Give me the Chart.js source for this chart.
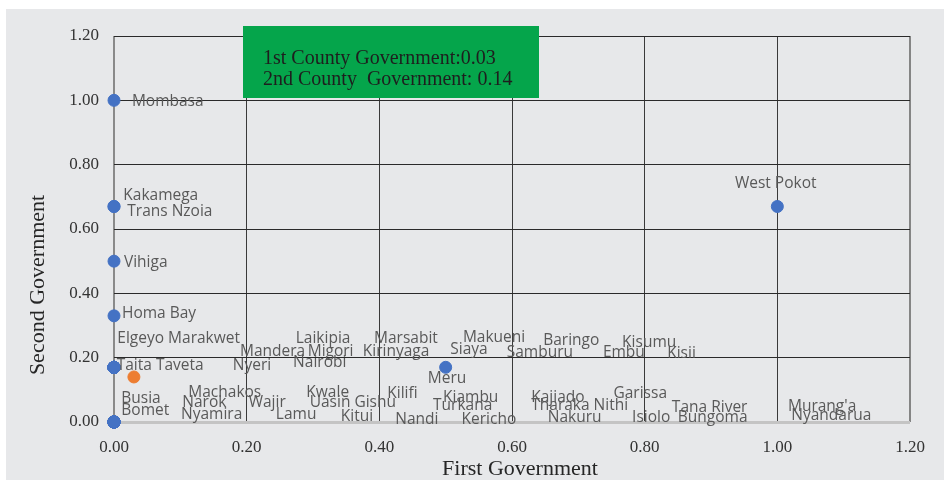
<!DOCTYPE html>
<html>
<head>
<meta charset="utf-8">
<script src="https://cdn.jsdelivr.net/npm/chart.js@4"></script>
<style>
  body { margin: 0; background: #ffffff; }
  #wrap { width: 944px; height: 486px; }
</style>
</head>
<body>
<div id="wrap"><canvas id="scatterChart" width="944" height="486"></canvas></div>
<script>
// county data (first government score, second government score)
var counties = ['Mombasa', 'Kakamega', 'Trans Nzoia', 'Vihiga', 'Homa Bay',
    'Elgeyo Marakwet', 'Taita Taveta', 'Mandera', 'Nyeri', 'Laikipia', 'Migori', 'Nairobi',
    'Marsabit', 'Kirinyaga', 'Makueni', 'Siaya', 'Baringo', 'Samburu', 'Kisumu', 'Embu', 'Kisii',
    'Meru', 'West Pokot',
    'Busia', 'Bomet', 'Machakos', 'Narok', 'Nyamira', 'Wajir', 'Lamu', 'Kwale', 'Uasin Gishu',
    'Kitui', 'Kilifi', 'Nandi', 'Kiambu', 'Turkana', 'Kericho', 'Kajiado', 'Tharaka Nithi',
    'Nakuru', 'Garissa', 'Isiolo', 'Tana River', 'Bungoma', "Murang'a", 'Nyandarua'];

var firstGov = [0, 0, 0, 0, 0,
    0, 0, 0, 0, 0, 0, 0,
    0, 0, 0, 0, 0, 0, 0, 0, 0,
    0.5, 1,
    0, 0, 0, 0, 0, 0, 0, 0, 0,
    0, 0, 0, 0, 0, 0, 0, 0,
    0, 0, 0, 0, 0, 0, 0];

var secondGov = [1, 0.67, 0.67, 0.5, 0.33,
    0.17, 0.17, 0.17, 0.17, 0.17, 0.17, 0.17,
    0.17, 0.17, 0.17, 0.17, 0.17, 0.17, 0.17, 0.17, 0.17,
    0.17, 0.67,
    0, 0, 0, 0, 0, 0, 0, 0, 0,
    0, 0, 0, 0, 0, 0, 0, 0,
    0, 0, 0, 0, 0, 0, 0];

// average of both governments
var avgFirst = [0.03];
var avgSecond = [0.14];

var tickValues = [0, 0.2, 0.4, 0.6, 0.8, 1.0, 1.2];

// where each county's label was placed (data units, left edge / middle)
var labelAnchors = [
    [0.027, 1.0], [0.014, 0.706], [0.020, 0.656], [0.015, 0.5], [0.012, 0.339],
    [0.005, 0.263], [0.004, 0.180], [0.190, 0.221], [0.179, 0.180], [0.274, 0.263], [0.292, 0.221], [0.270, 0.187],
    [0.392, 0.261], [0.375, 0.221], [0.526, 0.267], [0.507, 0.227], [0.647, 0.255], [0.592, 0.218], [0.766, 0.249], [0.737, 0.218], [0.834, 0.215],
    [0.473, 0.137], [0.936, 0.743],
    [0.011, 0.075], [0.011, 0.040], [0.112, 0.096], [0.103, 0.062], [0.101, 0.025], [0.203, 0.062], [0.244, 0.025], [0.290, 0.096], [0.295, 0.062],
    [0.342, 0.019], [0.412, 0.093], [0.424, 0.012], [0.496, 0.078], [0.481, 0.053], [0.524, 0.012], [0.629, 0.078], [0.629, 0.053],
    [0.654, 0.016], [0.753, 0.090], [0.781, 0.016], [0.841, 0.047], [0.850, 0.016], [1.016, 0.050], [1.021, 0.022]
];

var points = counties.map(function(c, i) {
    return { x: firstGov[i], y: secondGov[i] };
});
var avgPoints = avgFirst.map(function(v, i) {
    return { x: v, y: avgSecond[i] };
});

var backgroundPlugin = {
    id: 'panel',
    beforeDraw: function(chart) {
        var ctx = chart.ctx;
        ctx.save();
        ctx.fillStyle = '#e7e8ea';
        ctx.fillRect(6, 9, 938, 471);
        ctx.restore();
    }
};

var labelsPlugin = {
    id: 'countyLabels',
    afterDatasetsDraw: function(chart) {
        var ctx = chart.ctx;
        var xs = chart.scales.x, ys = chart.scales.y;
        ctx.save();
        ctx.font = '15.5px "Open Sans"';
        ctx.fillStyle = '#595959';
        ctx.textAlign = 'left';
        ctx.textBaseline = 'middle';
        counties.forEach(function(name, i) {
            var a = labelAnchors[i];
            ctx.fillText(name, xs.getPixelForValue(a[0]), ys.getPixelForValue(a[1]) + 1);
        });

        // green note box
        ctx.fillStyle = '#05a54b';
        ctx.fillRect(243, 26, 296, 72);
        ctx.fillStyle = '#1e1e1e';
        ctx.font = '20px "Liberation Serif"';
        ctx.fillText('1st County Government:0.03', 263, 59);
        ctx.fillText('2nd County  Government: 0.14', 263, 80);

        // axis titles
        ctx.fillStyle = '#262626';
        ctx.font = '22px "Liberation Serif"';
        ctx.textAlign = 'center';
        ctx.fillText('First Government', 520, 469);
        ctx.translate(38, 285);
        ctx.rotate(-Math.PI / 2);
        ctx.fillText('Second Government', 0, 0);
        ctx.restore();
    }
};

new Chart(document.getElementById('scatterChart'), {
    type: 'scatter',
    data: {
        datasets: [{
            label: 'Counties',
            data: points,
            backgroundColor: '#4472c4',
            borderColor: '#4472c4',
            pointRadius: 6,
            pointHoverRadius: 6,
            clip: false
        }, {
            label: 'Average',
            data: avgPoints,
            backgroundColor: '#ed7d31',
            borderColor: '#ed7d31',
            pointRadius: 6,
            pointHoverRadius: 6,
            clip: false
        }]
    },
    plugins: [backgroundPlugin, labelsPlugin],
    options: {
        responsive: false,
        animation: false,
        layout: { padding: { top: 36, right: 34, left: 0, bottom: 0 } },
        plugins: {
            legend: { display: false },
            tooltip: { enabled: false }
        },
        scales: {
            x: {
                type: 'linear',
                min: 0,
                max: 1.2,
                afterBuildTicks: function(scale) {
                    scale.ticks = tickValues.map(function(v) { return { value: v }; });
                },
                afterFit: function(scale) { scale.height = 64; },
                border: { display: false },
                grid: {
                    drawTicks: false,
                    color: function(c) {
                        if (c.index === 0) return '#8a8a8a';
                        if (c.index === tickValues.length - 1) return '#858585';
                        return '#3a3a3a';
                    },
                    lineWidth: function(c) {
                        return (c.index === 0 || c.index === tickValues.length - 1) ? 2 : 1;
                    }
                },
                ticks: {
                    padding: 15,
                    color: '#333333',
                    font: { family: 'Liberation Serif', size: 17 },
                    callback: function(v) { return Number(v).toFixed(2); }
                }
            },
            y: {
                type: 'linear',
                min: 0,
                max: 1.2,
                afterBuildTicks: function(scale) {
                    scale.ticks = tickValues.map(function(v) { return { value: v }; });
                },
                afterFit: function(scale) { scale.width = 114; },
                border: { display: false },
                grid: {
                    drawTicks: false,
                    color: function(c) {
                        if (c.index === 0) return '#c4c4c4';
                        return '#2a2a2a';
                    },
                    lineWidth: function(c) { return c.index === 0 ? 3 : 1; }
                },
                ticks: {
                    padding: 15,
                    color: '#333333',
                    font: { family: 'Liberation Serif', size: 17 },
                    callback: function(v) { return Number(v).toFixed(2); }
                }
            }
        }
    }
});
</script>
</body>
</html>
